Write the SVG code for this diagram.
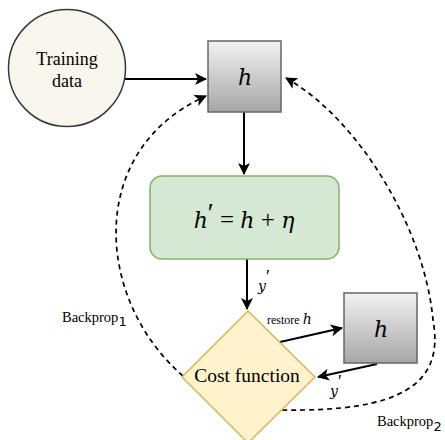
<svg xmlns="http://www.w3.org/2000/svg" width="445" height="440" viewBox="0 0 445 440">
  <style>
    .lbl { font-family: "Liberation Serif", "Times New Roman", serif; fill: #000; }
    .math { font-family: "DejaVu Serif", "Liberation Serif", serif; font-style: italic; fill: #000; }
    .sub { font-family: "DejaVu Sans", "Liberation Sans", sans-serif; fill: #000; }
    .edge { fill: none; stroke: #000; stroke-width: 2; }
    .dash { fill: none; stroke: #000; stroke-width: 1.7; stroke-dasharray: 5 4; }
    .gbox { fill: url(#grey); stroke: #666; stroke-width: 1.5; }
  </style>
  <defs>
    <linearGradient id="grey" x1="0" y1="0" x2="0" y2="1">
      <stop offset="0" stop-color="#f2f2f2"/>
      <stop offset="1" stop-color="#a6a6a6"/>
    </linearGradient>
    <marker id="arr" viewBox="0 0 12 12" refX="11" refY="6" markerWidth="12" markerHeight="12" markerUnits="userSpaceOnUse" orient="auto">
      <path d="M0,0 L12,6 L0,12 L3,6 Z" fill="#000"/>
    </marker>
  </defs>

  <!-- connectors -->
  <g id="connectors">
    <line class="edge" x1="125" y1="79" x2="206" y2="79" marker-end="url(#arr)"/>
    <line class="edge" x1="244" y1="112" x2="244" y2="174" marker-end="url(#arr)"/>
    <line class="edge" x1="247" y1="259" x2="247" y2="309" marker-end="url(#arr)"/>
    <line class="edge" x1="280" y1="342" x2="342" y2="328" marker-end="url(#arr)"/>
    <line class="edge" x1="377" y1="364" x2="318" y2="377" marker-end="url(#arr)"/>
    <path class="dash" d="M183,376 C95,300 85,150 206,96" marker-end="url(#arr)"/>
    <path class="dash" d="M282,410 C400,412 445,385 433,320 C425,230 360,120 286,78" marker-end="url(#arr)"/>

    <text class="math" x="258" y="291" font-size="14">y</text>
    <text class="lbl" x="266" y="283" font-size="18">′</text>
    <text class="lbl" x="267" y="324" font-size="12">restore <tspan class="math" font-size="14">h</tspan></text>
    <text class="math" x="330" y="396" font-size="14">y</text>
    <text class="lbl" x="338" y="388" font-size="18">′</text>
    <text class="lbl" x="62" y="322" font-size="14.5">Backprop<tspan class="sub" font-size="13" dy="4">1</tspan></text>
    <text class="lbl" x="377" y="426" font-size="14.5">Backprop<tspan class="sub" font-size="13" dy="5">2</tspan></text>
  </g>

  <!-- training data -->
  <g id="training-data">
    <circle cx="67" cy="68" r="58.5" fill="#f9f7ed" stroke="#36393d" stroke-width="1.5"/>
    <text class="lbl" x="67" y="65" font-size="18" text-anchor="middle">Training</text>
    <text class="lbl" x="67" y="87" font-size="18" text-anchor="middle">data</text>
  </g>

  <!-- model h -->
  <g id="model-h">
    <rect class="gbox" x="208" y="41" width="73" height="71"/>
    <text class="math" x="245" y="85" font-size="22" text-anchor="middle">h</text>
  </g>

  <!-- perturbed model -->
  <g id="perturbed">
    <rect x="150" y="176" width="189" height="83" rx="12" ry="12" fill="#d5e8d4" stroke="#82b366" stroke-width="1.5"/>
    <text class="lbl" x="244" y="228" font-size="25" text-anchor="middle"><tspan class="math" font-size="22">h</tspan><tspan font-size="27" dy="-6">′</tspan><tspan dy="6"> = </tspan><tspan class="math" font-size="22">h</tspan> + <tspan class="math" font-size="22">η</tspan></text>
  </g>

  <!-- cost function -->
  <g id="cost">
    <polygon points="248,311 315,377 248,443 182,377" fill="#fff2cc" stroke="#d6b656" stroke-width="1.5"/>
    <text class="lbl" x="247" y="382" font-size="19.5" text-anchor="middle">Cost function</text>
  </g>

  <!-- restored h -->
  <g id="restored-h">
    <rect class="gbox" x="344" y="293" width="73" height="70"/>
    <text class="math" x="381" y="337" font-size="22" text-anchor="middle">h</text>
  </g>
</svg>
